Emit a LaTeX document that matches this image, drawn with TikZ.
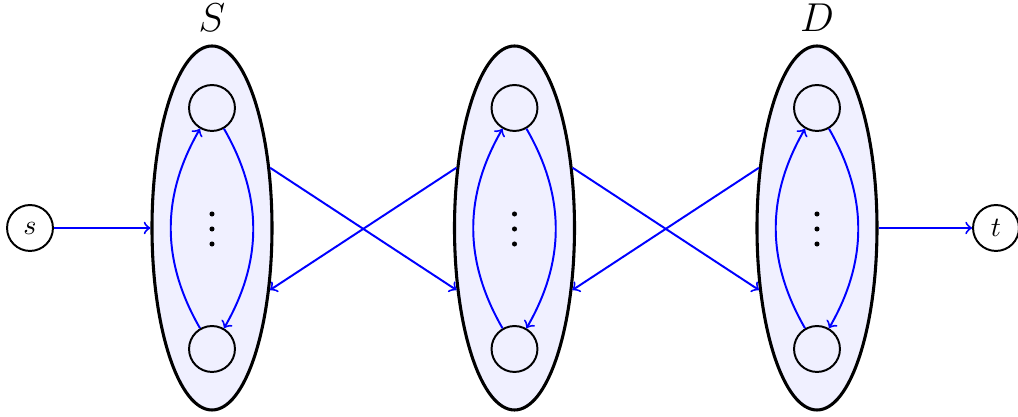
\documentclass[tikz,border=0pt]{standalone}
\usetikzlibrary{shapes.geometric}
\begin{document}
\begin{tikzpicture}[x=0.35714pt,y=-0.35714pt,
  grp/.style={ellipse, draw, line width=1.1pt, fill=blue!6, minimum width=42.86pt, minimum height=130pt, inner sep=0pt},
  vtx/.style={circle, draw, line width=0.7pt, minimum size=16.4pt, inner sep=0pt},
  arr/.style={->, blue, line width=0.7pt},
  dot/.style={circle, fill=black, inner sep=0pt, minimum size=1.8pt},
  lab/.style={font=\Large}]
\useasboundingbox (0,0) rectangle (1018,417);
% groups
\node[grp] (E1) at (212,228) {};
\node[grp] (E2) at (514.5,228) {};
\node[grp] (E3) at (817,228) {};
% labels
\node[lab] (LS) at (212,18) {$S$};
\node[lab] (LD) at (817,18) {$D$};
% inner vertices
\foreach \i/\x in {1/212,2/514.5,3/817}{
  \node[vtx] (a\i) at (\x,108) {};
  \node[vtx] (b\i) at (\x,349) {};
  \node[dot] (p\i) at (\x,214) {};
  \node[dot] (q\i) at (\x,229) {};
  \node[dot] (r\i) at (\x,244) {};
  \draw[arr] (b\i) to[bend left=30] (a\i);
  \draw[arr] (a\i) to[bend left=30] (b\i);
}
% source and sink
\node[vtx] (s) at (30,228) {$s$};
\node[vtx] (t) at (996,228) {$t$};
\draw[arr] (s) -- (E1);
\draw[arr] (E3) -- (t);
% crossing arrows
\draw[arr] (E1.46) -- (E2.227);
\draw[arr] (E2.134) -- (E1.313);
\draw[arr] (E2.46) -- (E3.227);
\draw[arr] (E3.134) -- (E2.313);
\end{tikzpicture}
\end{document}
